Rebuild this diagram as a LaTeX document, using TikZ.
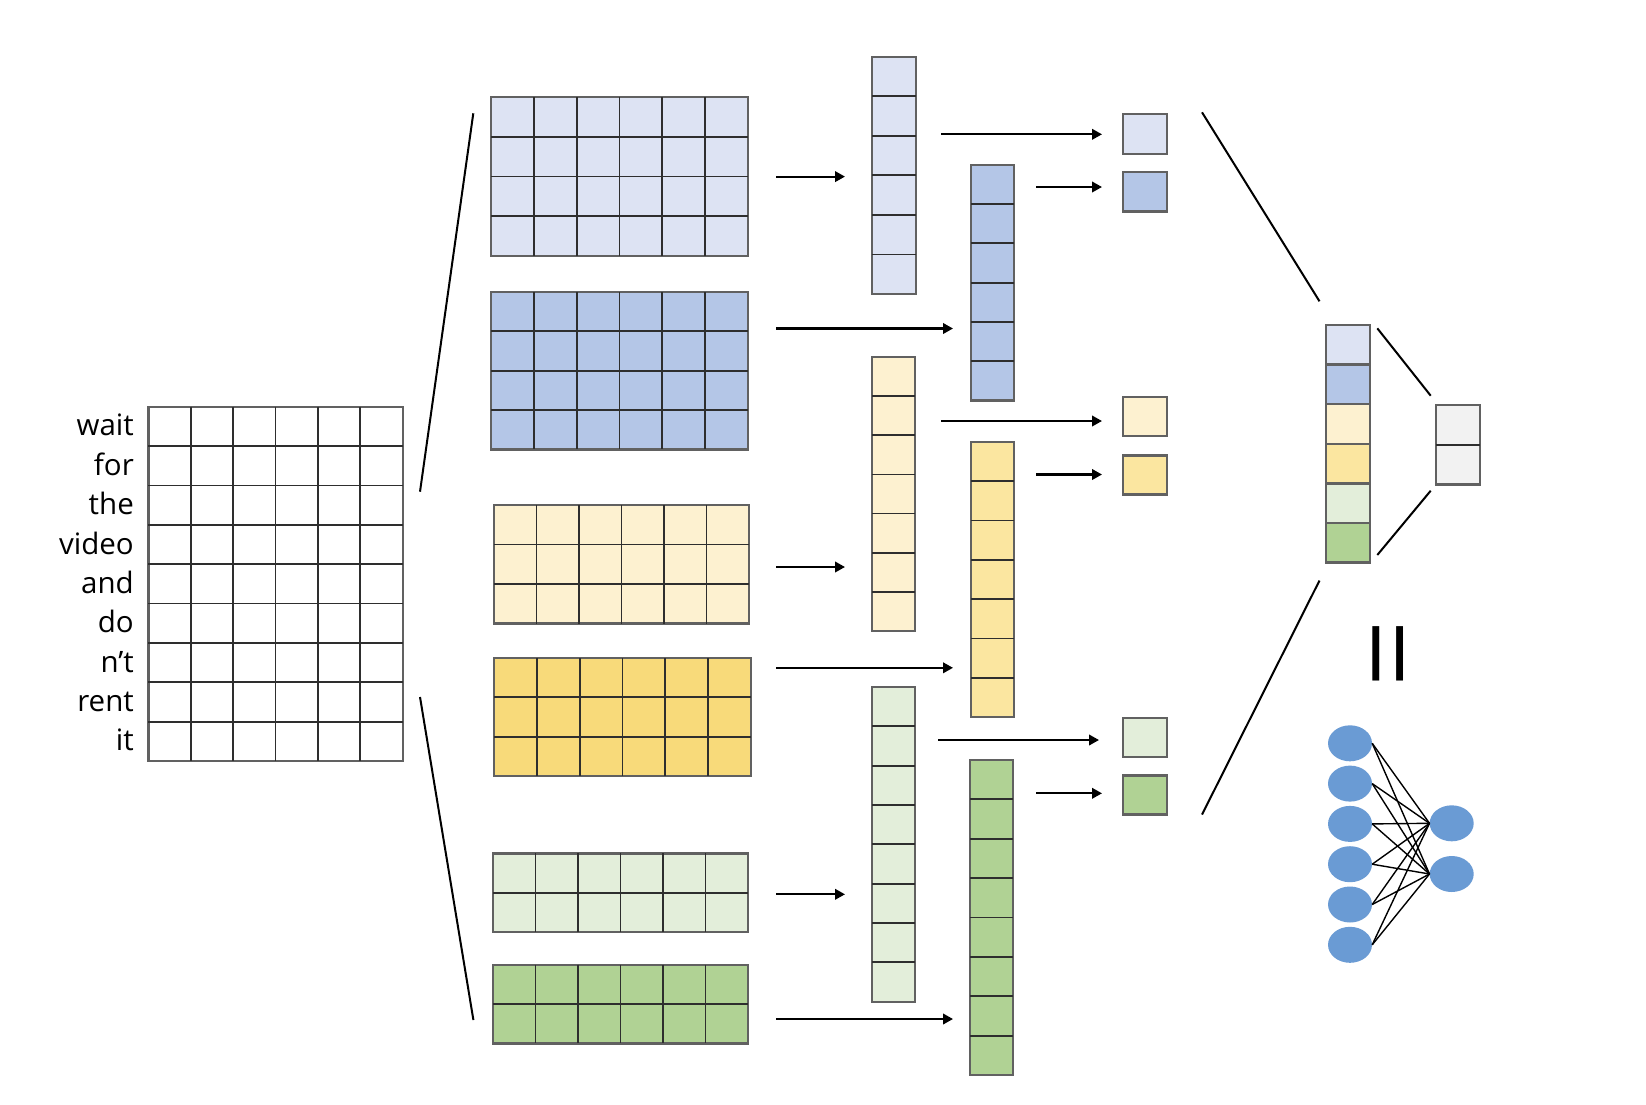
\documentclass[tikz,border=0pt]{standalone}
\usepackage{fontspec}
\setmainfont{Open Sans}
\newfontfamily\eqfont{Liberation Sans}
\usetikzlibrary{calc,arrows.meta,shapes.geometric}
\definecolor{clb}{HTML}{DDE3F3}
\definecolor{cbl}{HTML}{B4C6E7}
\definecolor{cly}{HTML}{FDF1D0}
\definecolor{cylg}{HTML}{F8DA7A}
\definecolor{cyl}{HTML}{FBE6A0}
\definecolor{clg}{HTML}{E3EEDA}
\definecolor{cgr}{HTML}{B0D294}
\definecolor{cgy}{HTML}{F2F2F2}
\definecolor{cnn}{HTML}{6A9BD4}
\tikzset{
  cellbox/.style={draw=black!62, line width=2.4pt, inner sep=0pt, outer sep=0pt, anchor=north west},
  cellline/.style={draw=black!82, line width=1.8pt},
  arr/.style={line width=2.2pt, -{Triangle[length=10pt,width=10.5pt]}},
  link/.style={line width=2pt},
  neuron/.style={ellipse, fill=cnn, draw=none, minimum width=44pt, minimum height=36pt, inner sep=0pt},
  synapse/.style={line width=1.4pt},
  word/.style={anchor=base east, inner sep=0pt, font=\fontsize{29.5}{29.5}\selectfont}
}
\newcommand\cgrid[8]{%
  \node[cellbox, fill=#8, minimum width=#4pt-#2pt, minimum height=#5pt-#3pt] (#1) at (#2,#3) {};
  \ifnum#6>1
    \pgfmathtruncatemacro\gridcm{#6-1}%
    \foreach \i in {1,...,\gridcm}
      \draw[cellline] ($(#1.north west)!{\i/#6}!(#1.north east)$) -- ($(#1.south west)!{\i/#6}!(#1.south east)$);
  \fi
  \ifnum#7>1
    \pgfmathtruncatemacro\gridrm{#7-1}%
    \foreach \i in {1,...,\gridrm}
      \draw[cellline] ($(#1.north west)!{\i/#7}!(#1.south west)$) -- ($(#1.north east)!{\i/#7}!(#1.south east)$);
  \fi
}
\begin{document}
\begin{tikzpicture}[x=1pt,y=-1pt]
\useasboundingbox[fill=white] (0,0) rectangle (1646,1104);

% input matrix
\cgrid{L}{148.3}{406.7}{402.7}{761}{6}{9}{white}
\foreach \w [count=\k] in {wait,for,the,video,and,do,n't,rent,it}
  \node[word] (w\k) at (134,{406.7+(\k-0.5)*39.37+9.5}) {\w};

% filter maps
\cgrid{G1}{491}{97}{748}{256}{6}{4}{clb}
\cgrid{G2}{491}{292}{748}{449.3}{6}{4}{cbl}
\cgrid{G3}{494}{505}{749}{623.5}{6}{3}{cly}
\cgrid{G4}{494}{658}{751}{776}{6}{3}{cylg}
\cgrid{G5}{493}{853.4}{748}{932}{6}{2}{clg}
\cgrid{G6}{493}{964.7}{748}{1043.4}{6}{2}{cgr}

% feature vectors
\cgrid{V1}{872}{56.7}{916}{294}{1}{6}{clb}
\cgrid{V2}{971}{164.8}{1014}{400.5}{1}{6}{cbl}
\cgrid{V3}{872}{357}{915}{631}{1}{7}{cly}
\cgrid{V4}{971}{442}{1014}{717}{1}{7}{cyl}
\cgrid{V5}{872}{687}{915}{1001.7}{1}{8}{clg}
\cgrid{V6}{970}{760}{1013}{1075}{1}{8}{cgr}

% pooled values
\cgrid{S1}{1123}{114}{1167}{153.8}{1}{1}{clb}
\cgrid{S2}{1123}{172}{1167}{211.5}{1}{1}{cbl}
\cgrid{S3}{1123}{397}{1167}{435.8}{1}{1}{cly}
\cgrid{S4}{1123}{455.6}{1167}{494.4}{1}{1}{cyl}
\cgrid{S5}{1123}{718}{1167}{757}{1}{1}{clg}
\cgrid{S6}{1123}{775.5}{1167}{814.5}{1}{1}{cgr}

% concatenated vector
\foreach \c [count=\k] in {clb,cbl,cly,cyl,clg,cgr}
  \node[cellbox, fill=\c, minimum width=44pt, minimum height=39.6pt] (C\k) at (1325.7,{325+(\k-1)*39.6}) {};

% output
\cgrid{O}{1436}{405}{1480}{484.3}{1}{2}{cgy}

% arrows: filters -> vectors
\coordinate (a1s) at (776,176.6);   \coordinate (a1e) at (845,176.6);
\coordinate (a2s) at (776,328.5);   \coordinate (a2e) at (953,328.5);
\coordinate (a3s) at (776,567);     \coordinate (a3e) at (845,567);
\coordinate (a4s) at (776,667.8);   \coordinate (a4e) at (953,667.8);
\coordinate (a5s) at (776,894.3);   \coordinate (a5e) at (845,894.3);
\coordinate (a6s) at (776,1019);    \coordinate (a6e) at (953,1019);
\foreach \k in {1,...,6} \draw[arr] (a\k s) -- (a\k e);

% arrows: vectors -> pooled
\coordinate (b1s) at (941,134.3);   \coordinate (b1e) at (1102,134.3);
\coordinate (b2s) at (1036,187);    \coordinate (b2e) at (1102,187);
\coordinate (b3s) at (941,421);     \coordinate (b3e) at (1102,421);
\coordinate (b4s) at (1036,474.5);  \coordinate (b4e) at (1102,474.5);
\coordinate (b5s) at (938,740);     \coordinate (b5e) at (1099,740);
\coordinate (b6s) at (1036,793.3);  \coordinate (b6e) at (1102,793.3);
\foreach \k in {1,...,6} \draw[arr] (b\k s) -- (b\k e);

% fan lines
\coordinate (f1a) at (420,491.7);   \coordinate (f1b) at (473.3,113.3);
\coordinate (f2a) at (420,697);     \coordinate (f2b) at (473.4,1020);
\coordinate (f3a) at (1202,112.3);  \coordinate (f3b) at (1319.5,301.3);
\coordinate (f4a) at (1202,814.6);  \coordinate (f4b) at (1319.5,580.5);
\coordinate (f5a) at (1377.3,328.3); \coordinate (f5b) at (1430.7,395.7);
\coordinate (f6a) at (1377.3,555);  \coordinate (f6b) at (1430.7,490.7);
\foreach \k in {1,...,6} \draw[link] (f\k a) -- (f\k b);

% equals sign
\node[rotate=90, anchor=base, inner sep=0pt, yscale=0.85, font=\eqfont\fontsize{112}{112}\selectfont] (eq) at (1419,654) {=};

% small network
\foreach \k in {1,...,6}
  \node[neuron] (n\k) at (1350,{743.3+(\k-1)*40.3}) {};
\node[neuron] (m1) at (1451.7,823.3) {};
\node[neuron] (m2) at (1451.7,874) {};
\foreach \k in {1,...,6} {
  \draw[synapse] (n\k.east) -- (m1.west);
  \draw[synapse] (n\k.east) -- (m2.west);
}
\end{tikzpicture}
\end{document}
